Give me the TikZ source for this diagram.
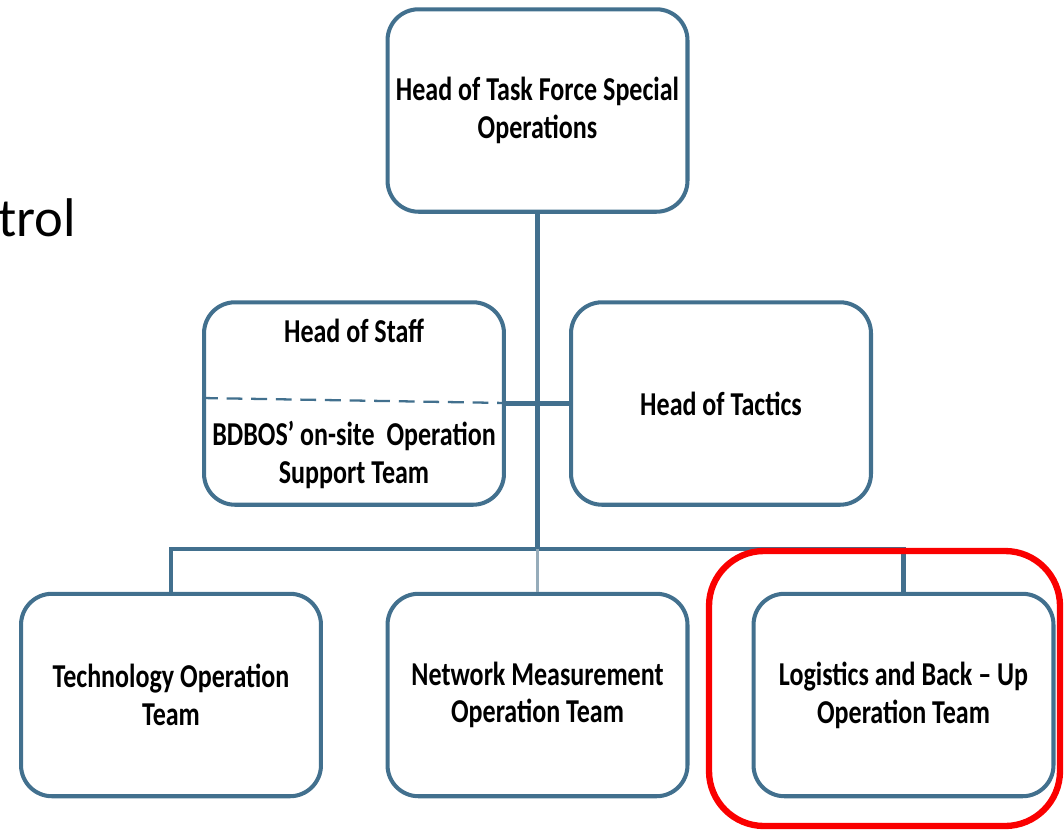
\documentclass[tikz,border=0pt]{standalone}
\usepackage{fontspec}
\setmainfont{Carlito}
\newfontfamily\boxfont[FakeStretch=0.78]{Carlito}
\usetikzlibrary{positioning}
\definecolor{orgblue}{RGB}{66,112,142}
\definecolor{orgpale}{RGB}{150,172,186}
\definecolor{markred}{RGB}{250,0,0}

\begin{document}
\begin{tikzpicture}[x=0.02cm, y=-0.02cm, unit/.style={draw=orgblue, line width=2.3pt, rounded corners=0.62cm, minimum width=6.0cm, minimum height=4.05cm, align=center, font=\boxfont\bfseries\fontsize{19}{21.5}\selectfont, inner sep=2pt}, txt/.style={align=center, font=\boxfont\bfseries\fontsize{19}{21.5}\selectfont}, link/.style={orgblue, line width=2.3pt}]
\useasboundingbox (0,0) rectangle (1064,829);
\node[unit] (head) at (537.5,110.5) {Head of Task Force Special\\Operations}; \node[unit] (staff) at (354,403.5) {}; \node[unit] (tactics) at (721,403.5) {Head of Tactics};
\node[unit] (tech) at (171,695) {Technology Operation\\Team}; \node[unit] (network) at (537.5,695) {Network Measurement\\Operation Team}; \node[unit] (logistics) at (903.5,695) {Logistics and Back – Up\\Operation Team};
\node[txt] (staffhead) at (354,331) {Head of Staff}; \node[txt] (staffteam) at (354,455) {BDBOS’ on-site~ Operation\\Support Team};
\coordinate (bus) at (537.5,549);
\draw[link] (head.south) -- (bus); \draw[link] (staff.east) -- (tactics.west); \draw[link] (tech.north) |- (bus) -| (logistics.north); \draw[orgpale, line width=1.5pt] (bus) -- (network.north);
\draw[orgblue, line width=1.3pt, dash pattern=on 9pt off 5pt] (staff.west |- 0,398) -- (staff.east |- 0,403);
\node[font=\fontsize{31}{34}\selectfont, anchor=west, inner sep=0pt] (ctrl) at (-2,218) {trol};
\draw[markred, line width=3.6pt, rounded corners=1.1cm] (709,551) rectangle (1060,826);
\end{tikzpicture}
\end{document}
